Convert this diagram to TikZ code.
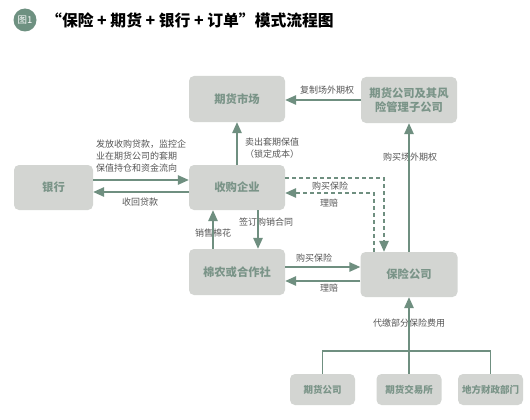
\documentclass[tikz,border=0pt]{standalone}
\usepackage{fontspec}
\setmainfont{Noto Sans CJK SC}
\usetikzlibrary{arrows.meta}
\definecolor{boxfill}{HTML}{D3D5D2}
\definecolor{boxtext}{HTML}{7A9488}
\definecolor{arrc}{HTML}{6F8F80}
\definecolor{labc}{HTML}{555555}
\definecolor{badge}{HTML}{6E9181}
\tikzset{
  box/.style={fill=boxfill,rounded corners=5pt,inner sep=0pt,text=boxtext,font=\fontsize{11.3}{13.5}\selectfont\bfseries,align=center},
  smallbox/.style={box,minimum width=65pt,minimum height=31pt,font=\fontsize{9.5}{11}\selectfont\bfseries},
  conn/.style={draw=arrc,line width=1.4pt},
  arr/.style={conn,-{Triangle[length=11pt,width=9.5pt]}},
  darr/.style={arr,dash pattern=on 4pt off 3pt},
  lab/.style={text=labc,font=\fontsize{9}{12}\selectfont,inner sep=0pt}
}
\begin{document}
\begin{tikzpicture}[x=1pt,y=-1pt]
\useasboundingbox (0,0) rectangle (530,420);
% title
\node[circle,fill=badge,minimum size=23pt,inner sep=0pt,text=white,font=\fontsize{9.5}{10}\selectfont] (badge) at (25,20) {图1};
\node[anchor=west,inner sep=0pt,font=\fontsize{15.8}{18}\selectfont\bfseries] (title) at (46,20) {“保险 + 期货 + 银行 + 订单”模式流程图};
% boxes
\node[box,minimum width=96pt,minimum height=46pt] (market) at (237,99) {期货市场};
\node[box,minimum width=96pt,minimum height=46pt] (fut) at (409,100) {期货公司及其风\\险管理子公司};
\node[box,minimum width=79pt,minimum height=45pt] (bank) at (53.5,187.5) {银行};
\node[box,minimum width=96pt,minimum height=45pt] (acq) at (237,187.5) {收购企业};
\node[box,minimum width=96pt,minimum height=46pt] (farm) at (237,272) {棉农或合作社};
\node[box,minimum width=97pt,minimum height=45pt] (ins) at (409,274.5) {保险公司};
\node[smallbox] (b1) at (322.5,389.5) {期货公司};
\node[smallbox] (b2) at (409,389.5) {期货交易所};
\node[smallbox] (b3) at (490.5,389.5) {地方财政部门};
% labels
\node[lab] (l1) at (327,90) {复制场外期权};
\node[lab] (l2) at (410,157) {购买场外期权};
\node[lab,anchor=west,align=left] (l3) at (245,148) {卖出套期保值\\（锁定成本）};
\node[lab,anchor=west,align=left] (l4) at (96,156.5) {发放收购贷款，监控企\\业在期货公司的套期\\保值持仓和资金流向};
\node[lab] (l5) at (140,202) {收回贷款};
\node[lab] (l6) at (330,186) {购买保险};
\node[lab] (l7) at (329,203) {理赔};
\node[lab] (l8) at (266,222) {签订购销合同};
\node[lab] (l9) at (213,233) {销售棉花};
\node[lab] (l10) at (314,258) {购买保险};
\node[lab] (l11) at (329,288) {理赔};
\node[lab] (l12) at (409,323) {代缴部分保险费用};
% connectors
\draw[arr] (fut.west) -- (fut.west -| market.east);
\draw[arr] (ins.north) -- (fut.south);
\draw[arr] (acq.north) -- (market.south);
\draw[arr] ([yshift=7.5pt]bank.east) -- ([yshift=7.5pt]acq.west);
\draw[arr] ([yshift=-4.5pt]acq.west) -- ([yshift=-4.5pt]bank.east);
\draw[darr] ([yshift=9.5pt]acq.east) -| ([xshift=-25pt]ins.north);
\draw[darr] ([xshift=-35pt]ins.north) |- ([yshift=-5.5pt]acq.east);
\draw[arr] ([xshift=21pt]acq.south) -- ([xshift=21pt]farm.north);
\draw[arr] ([xshift=-24pt]farm.north) -- ([xshift=-24pt]acq.south);
\draw[arr] ([yshift=5pt]farm.east) -- ([yshift=5pt]farm.east -| ins.west);
\draw[arr] ([yshift=-9pt]farm.east -| ins.west) -- ([yshift=-9pt]farm.east);
\coordinate (j) at (409,351);
\draw[conn] (b1.north) |- (j) -| (b3.north);
\draw[arr] (b2.north) -- (ins.south);
\end{tikzpicture}
\end{document}
